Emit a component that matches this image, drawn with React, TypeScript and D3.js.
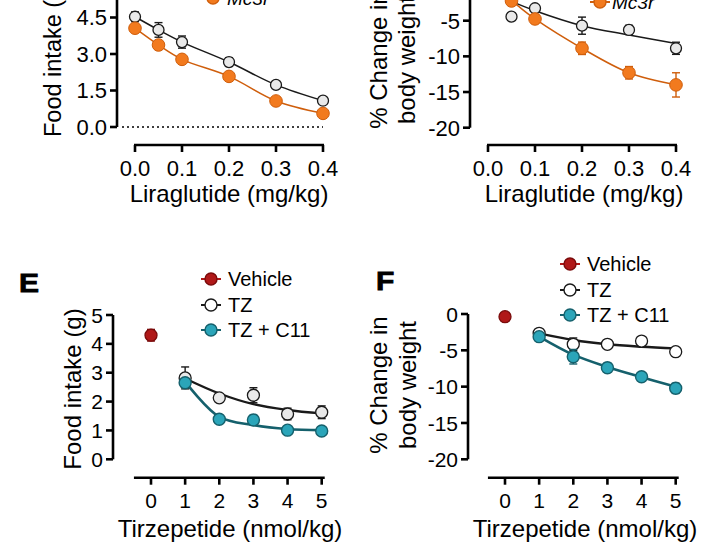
import React from "react";
import * as d3 from "d3";

const FONT = "'Liberation Sans', Arial, Helvetica, sans-serif";

// ---------- Liraglutide panels (top, cropped) ----------
const liraDoses = [0, 0.05, 0.1, 0.2, 0.3, 0.4];
const liraTicks = [0, 0.1, 0.2, 0.3, 0.4];
const foodTicks = [0, 1.5, 3, 4.5, 6];
const foodWT = [4.53, 3.99, 3.49, 2.67, 1.73, 1.08];
const foodWTErr = [0.2, 0.3, 0.25, 0.18, 0.13, 0.05];
const foodKO = [4.06, 3.37, 2.78, 2.08, 1.07, 0.56];
const foodKOErr = [0.08, 0.08, 0.08, 0.08, 0.08, 0.06];

const bwTicks = [0, -5, -10, -15, -20];
const bwWT = [0, -4.44, -3.26, -5.7, -6.3, -8.87];
const bwWTErr = [0.2, 0.1, 0.1, 1.2, 0.65, 0.85];
const bwWTFit = [-0.8, -2.3, -3.6, -5.7, -7.0, -8.2];
const bwKO = [0, -2.24, -4.76, -8.87, -12.3, -14.0];
const bwKOErr = [0.2, 0.3, 0.63, 0.87, 0.87, 1.7];

// ---------- Tirzepetide panels ----------
const tirzDoses = [1, 2, 3, 4, 5];
const tirzTicks = [0, 1, 2, 3, 4, 5];

const eTicks = [0, 1, 2, 3, 4, 5];
const eVehicle = [4.3];
const eVehicleErr = [0.2];
const eTZ = [2.82, 2.13, 2.22, 1.57, 1.63];
const eTZErr = [0.38, 0.05, 0.26, 0.2, 0.22];
const eTZFit = [2.8, 2.28, 1.91, 1.71, 1.59];
const eC11 = [2.65, 1.39, 1.36, 1.01, 0.98];
const eC11Err = [0.1, 0.05, 0.17, 0.05, 0.05];
const eC11Fit = [2.69, 1.47, 1.19, 1.05, 1.01];

const fTicks = [0, -5, -10, -15, -20];
const fVehicle = [-0.37];
const fVehicleErr = [0.1];
const fTZ = [-2.66, -4.17, -4.17, -3.72, -5.19];
const fTZErr = [0.2, 0.87, 0.2, 0.2, 0.2];
const fTZFit = [-2.66, -3.58, -4.17, -4.5, -4.73];
const fC11 = [-3.12, -5.88, -7.39, -8.63, -10.23];
const fC11Err = [0.2, 1.0, 0.64, 0.3, 0.7];
const fC11Fit = [-3.1, -5.6, -7.3, -8.7, -10.0];

const legendTop = ["Mc3r", "\u2212/\u2212"];
const legendBottom = ["Vehicle", "TZ", "TZ + C11"];

// ---------- styles ----------
const ORANGE = "#f27a1e";
const ORANGE_D = "#cf5e0c";
const OPEN_FILL = "#e9e9e9";
const DARK = "#1a1a1a";
const TEAL = "#2ba5b9";
const TEAL_D = "#15606c";
const RED = "#b01818";
const RED_D = "#7a0b0b";

type S = d3.ScaleLinear<number, number>;

function YAxis({ ys, x, ticks, fmt, fs, from, to }: { ys: S; x: number; ticks: number[]; fmt: (v: number) => string; fs: number; from: number; to: number }) {
  return (
    <g>
      <line x1={x} x2={x} y1={ys(from)} y2={ys(to)} stroke="#000" strokeWidth={2.6} />
      {ticks.map((t) => (
        <g key={t}>
          <line x1={x - 7} x2={x} y1={ys(t)} y2={ys(t)} stroke="#000" strokeWidth={2.6} />
          <text x={x - 10} y={ys(t)} dy="0.36em" textAnchor="end" fontSize={fs} fontFamily={FONT}>
            {fmt(t)}
          </text>
        </g>
      ))}
    </g>
  );
}

function XAxis({ xs, y, ticks, fmt, fs, x0, x1, labelY }: { xs: S; y: number; ticks: number[]; fmt: (v: number) => string; fs: number; x0: number; x1: number; labelY: number }) {
  return (
    <g>
      <line x1={x0} x2={x1} y1={y} y2={y} stroke="#000" strokeWidth={2.6} />
      {ticks.map((t) => (
        <g key={t}>
          <line x1={xs(t)} x2={xs(t)} y1={y} y2={y + 7} stroke="#000" strokeWidth={2.6} />
          <text x={xs(t)} y={labelY} textAnchor="middle" fontSize={fs} fontFamily={FONT}>
            {fmt(t)}
          </text>
        </g>
      ))}
    </g>
  );
}

function Series({ xs, ys, xv, yv, err, r, fill, stroke, sw }: { xs: S; ys: S; xv: number[]; yv: number[]; err: number[]; r: number; fill: string; stroke: string; sw: number }) {
  return (
    <g>
      {xv.map((xx, i) => (
        <g key={"e" + i} stroke={stroke} strokeWidth={1.4}>
          <line x1={xs(xx)} x2={xs(xx)} y1={ys(yv[i] - err[i])} y2={ys(yv[i] + err[i])} />
          <line x1={xs(xx) - 4} x2={xs(xx) + 4} y1={ys(yv[i] - err[i])} y2={ys(yv[i] - err[i])} />
          <line x1={xs(xx) - 4} x2={xs(xx) + 4} y1={ys(yv[i] + err[i])} y2={ys(yv[i] + err[i])} />
        </g>
      ))}
      {xv.map((xx, i) => (
        <circle key={"c" + i} cx={xs(xx)} cy={ys(yv[i])} r={r} fill={fill} stroke={stroke} strokeWidth={sw} />
      ))}
    </g>
  );
}

function Curve({ xs, ys, xv, yv, color, w }: { xs: S; ys: S; xv: number[]; yv: number[]; color: string; w: number }) {
  const gen = d3
    .line<number>()
    .x((_, i) => xs(xv[i]))
    .y((d) => ys(d))
    .curve(d3.curveCatmullRom.alpha(0.5));
  return <path d={gen(yv) || ""} fill="none" stroke={color} strokeWidth={w} />;
}

function LegendItem({ x, y, label, fill, stroke, lineColor, tx, fs, italicSup }: { x: number; y: number; label: string; fill: string; stroke: string; lineColor: string; tx: number; fs: number; italicSup?: string }) {
  return (
    <g>
      <line x1={x - 10} x2={x + 10} y1={y} y2={y} stroke={lineColor} strokeWidth={2} />
      <circle cx={x} cy={y} r={6} fill={fill} stroke={stroke} strokeWidth={1.4} />
      <text x={tx} y={y} dy="0.36em" fontSize={fs} fontFamily={FONT} fontStyle={italicSup ? "italic" : "normal"}>
        {label}
        {italicSup ? (
          <tspan dy={-9} fontSize={12}>
            {italicSup}
          </tspan>
        ) : null}
      </text>
    </g>
  );
}

function RotLabel({ x, y, lines, fs, gap }: { x: number; y: number; lines: string[]; fs: number; gap: number }) {
  return (
    <g transform={`translate(${x},${y}) rotate(-90)`}>
      {lines.map((l, i) => (
        <text key={i} x={0} y={i * gap} textAnchor="middle" fontSize={fs} fontFamily={FONT}>
          {l}
        </text>
      ))}
    </g>
  );
}

export default function App() {
  const xA = d3.scaleLinear().domain([0, 0.4]).range([135, 323]);
  const yA = d3.scaleLinear().domain([0, 6]).range([127, -19]);
  const xB = d3.scaleLinear().domain([0, 0.4]).range([488, 676]);
  const yB = d3.scaleLinear().domain([0, -20]).range([-15, 127.7]);
  const xE = d3.scaleLinear().domain([0, 5]).range([151, 321.7]);
  const yE = d3.scaleLinear().domain([0, 5]).range([459.3, 315]);
  const xF = d3.scaleLinear().domain([0, 5]).range([505, 675.7]);
  const yF = d3.scaleLinear().domain([-20, 0]).range([459.3, 314]);

  const f1 = (v: number) => v.toFixed(1);
  const f0 = (v: number) => String(v);

  return (
    <svg width={711} height={560} style={{ position: "absolute", left: 0, top: 0, background: "#fff" }}>
      <rect x={0} y={0} width={711} height={560} fill="#fff" />

      {/* ---- top-left ---- */}
      <RotLabel x={61} y={58} lines={["Food intake (g)"]} fs={23.5} gap={0} />
      <YAxis ys={yA} x={117} ticks={foodTicks} fmt={f1} fs={22} from={0} to={6} />
      <line x1={122} x2={323} y1={yA(0)} y2={yA(0)} stroke="#000" strokeWidth={1.6} strokeDasharray="2,3" />
      <XAxis xs={xA} y={145} ticks={liraTicks} fmt={f1} fs={22} x0={xA(0) - 1} x1={xA(0.4) + 1} labelY={176} />
      <text x={229} y={202} textAnchor="middle" fontSize={24} fontFamily={FONT}>Liraglutide (mg/kg)</text>
      <Curve xs={xA} ys={yA} xv={liraDoses} yv={foodWT} color={DARK} w={1.5} />
      <Curve xs={xA} ys={yA} xv={liraDoses} yv={foodKO} color={ORANGE_D} w={1.5} />
      <Series xs={xA} ys={yA} xv={liraDoses} yv={foodWT} err={foodWTErr} r={5.5} fill={OPEN_FILL} stroke={DARK} sw={1.3} />
      <Series xs={xA} ys={yA} xv={liraDoses} yv={foodKO} err={foodKOErr} r={6.3} fill={ORANGE} stroke={ORANGE_D} sw={1} />
      <LegendItem x={213} y={-2} label={legendTop[0]} fill={ORANGE} stroke={ORANGE_D} lineColor={ORANGE_D} tx={227} fs={19} italicSup={legendTop[1]} />

      {/* ---- top-right ---- */}
      <RotLabel x={387} y={60} lines={["% Change in", "body weight"]} fs={24} gap={28} />
      <YAxis ys={yB} x={470} ticks={bwTicks} fmt={f0} fs={22} from={0} to={-20} />
      <XAxis xs={xB} y={145} ticks={liraTicks} fmt={f1} fs={22} x0={xB(0) - 1} x1={xB(0.4) + 1} labelY={176} />
      <text x={584} y={202} textAnchor="middle" fontSize={24} fontFamily={FONT}>Liraglutide (mg/kg)</text>
      <Curve xs={xB} ys={yB} xv={liraDoses} yv={bwWTFit} color={DARK} w={1.5} />
      <Curve xs={xB} ys={yB} xv={liraDoses} yv={bwKO} color={ORANGE_D} w={1.5} />
      <Series xs={xB} ys={yB} xv={liraDoses} yv={bwWT} err={bwWTErr} r={5.5} fill={OPEN_FILL} stroke={DARK} sw={1.3} />
      <Series xs={xB} ys={yB} xv={liraDoses} yv={bwKO} err={bwKOErr} r={6.3} fill={ORANGE} stroke={ORANGE_D} sw={1} />
      <LegendItem x={600} y={2} label={legendTop[0]} fill={ORANGE} stroke={ORANGE_D} lineColor={ORANGE_D} tx={612} fs={19} italicSup={legendTop[1]} />

      {/* ---- panel E ---- */}
      <text transform="translate(19,292) scale(1.2,1)" fontSize={25} fontWeight="bold" fontFamily={FONT} stroke="#000" strokeWidth={0.8}>E</text>
      <LegendItem x={211} y={279} label={legendBottom[0]} fill={RED} stroke={RED_D} lineColor={RED} tx={228} fs={20} />
      <LegendItem x={211} y={305} label={legendBottom[1]} fill="#fff" stroke={DARK} lineColor={DARK} tx={228} fs={20} />
      <LegendItem x={211} y={330} label={legendBottom[2]} fill={TEAL} stroke={TEAL_D} lineColor={TEAL_D} tx={228} fs={20} />
      <RotLabel x={81} y={389} lines={["Food intake (g)"]} fs={24} gap={0} />
      <YAxis ys={yE} x={113} ticks={eTicks} fmt={f0} fs={21} from={0} to={5} />
      <XAxis xs={xE} y={477.7} ticks={tirzTicks} fmt={f0} fs={21} x0={xE(-0.5)} x1={xE(5) + 3} labelY={508} />
      <text x={230} y={537} textAnchor="middle" fontSize={24} fontFamily={FONT}>Tirzepetide (nmol/kg)</text>
      <Curve xs={xE} ys={yE} xv={tirzDoses} yv={eTZFit} color={DARK} w={2.4} />
      <Curve xs={xE} ys={yE} xv={tirzDoses} yv={eC11Fit} color={TEAL_D} w={2.6} />
      <Series xs={xE} ys={yE} xv={[0]} yv={eVehicle} err={eVehicleErr} r={6} fill={RED} stroke={RED_D} sw={1.3} />
      <Series xs={xE} ys={yE} xv={tirzDoses} yv={eTZ} err={eTZErr} r={6} fill={OPEN_FILL} stroke={DARK} sw={1.3} />
      <Series xs={xE} ys={yE} xv={tirzDoses} yv={eC11} err={eC11Err} r={6} fill={TEAL} stroke={TEAL_D} sw={1.4} />

      {/* ---- panel F ---- */}
      <text transform="translate(376,290) scale(1.2,1)" fontSize={25} fontWeight="bold" fontFamily={FONT} stroke="#000" strokeWidth={0.8}>F</text>
      <LegendItem x={570} y={264} label={legendBottom[0]} fill={RED} stroke={RED_D} lineColor={RED} tx={587} fs={20} />
      <LegendItem x={570} y={290} label={legendBottom[1]} fill="#fff" stroke={DARK} lineColor={DARK} tx={587} fs={20} />
      <LegendItem x={570} y={315} label={legendBottom[2]} fill={TEAL} stroke={TEAL_D} lineColor={TEAL_D} tx={587} fs={20} />
      <RotLabel x={387} y={385} lines={["% Change in", "body weight"]} fs={24} gap={29} />
      <YAxis ys={yF} x={468} ticks={fTicks} fmt={f0} fs={21} from={-20} to={0} />
      <XAxis xs={xF} y={477.7} ticks={tirzTicks} fmt={f0} fs={21} x0={xF(-0.5)} x1={xF(5) + 3} labelY={508} />
      <text x={585} y={537} textAnchor="middle" fontSize={24} fontFamily={FONT}>Tirzepetide (nmol/kg)</text>
      <Curve xs={xF} ys={yF} xv={tirzDoses} yv={fTZFit} color={DARK} w={2.4} />
      <Curve xs={xF} ys={yF} xv={tirzDoses} yv={fC11Fit} color={TEAL_D} w={2.6} />
      <Series xs={xF} ys={yF} xv={[0]} yv={fVehicle} err={fVehicleErr} r={6} fill={RED} stroke={RED_D} sw={1.3} />
      <Series xs={xF} ys={yF} xv={tirzDoses} yv={fTZ} err={fTZErr} r={6} fill="#fff" stroke={DARK} sw={1.3} />
      <Series xs={xF} ys={yF} xv={tirzDoses} yv={fC11} err={fC11Err} r={6} fill={TEAL} stroke={TEAL_D} sw={1.4} />
    </svg>
  );
}
